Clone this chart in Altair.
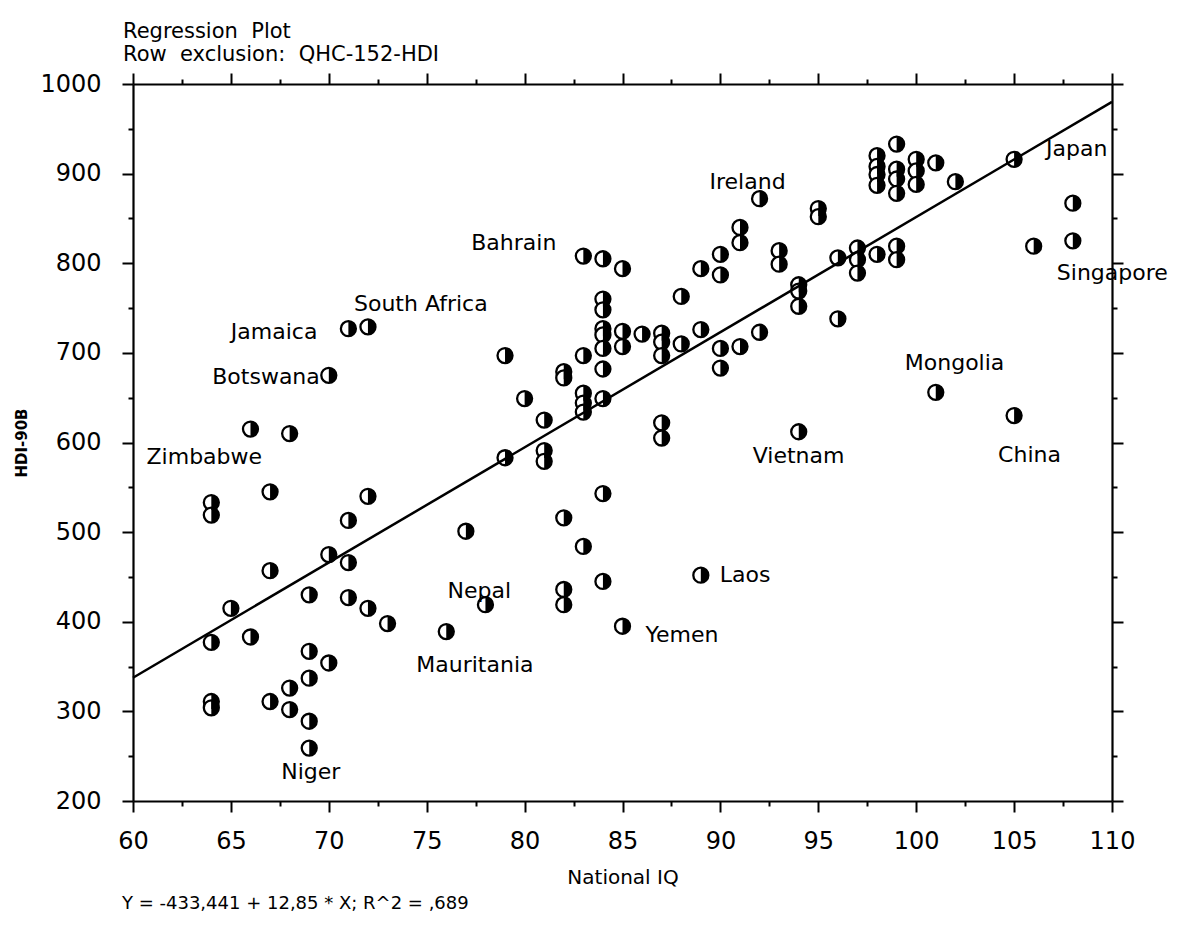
import math
import altair as alt
import pandas as pd

# ---------------- data ----------------
iq = [64, 64, 64, 64, 64, 65, 66, 66, 67, 67, 67, 68, 68, 68, 69, 69, 69, 69, 69,
      70, 70, 70, 71, 71, 71, 71, 72, 72, 72, 73, 76, 77, 78, 79, 79, 80, 81, 81, 81,
      82, 82, 82, 82, 82, 83, 83, 83, 83, 83, 83, 84, 84, 84, 84, 84, 84, 84, 84, 84, 84,
      85, 85, 85, 85, 86, 87, 87, 87, 87, 87, 88, 88, 89, 89, 89, 90, 90, 90, 90,
      91, 91, 91, 92, 92, 93, 93, 94, 94, 94, 94, 95, 95, 96, 96, 97, 97, 97,
      98, 98, 98, 98, 98, 99, 99, 99, 99, 99, 99, 100, 100, 100, 101, 101, 102,
      105, 105, 106, 108, 108]
hdi = [533, 519, 377, 311, 304, 415, 615, 383, 545, 457, 311, 610, 326, 302, 430, 367, 337, 289, 259,
       675, 475, 354, 727, 513, 466, 427, 729, 540, 415, 398, 389, 501, 419, 697, 583, 649, 625, 591, 579,
       679, 672, 516, 436, 419, 808, 697, 655, 644, 634, 484, 805, 760, 748, 727, 720, 705, 682, 649, 543, 445,
       794, 724, 707, 395, 721, 722, 712, 697, 622, 605, 763, 710, 794, 726, 452, 810, 787, 705, 683,
       840, 823, 707, 872, 723, 814, 799, 776, 769, 752, 612, 861, 852, 806, 738, 817, 804, 789,
       920, 908, 899, 887, 810, 933, 905, 894, 878, 819, 804, 916, 903, 888, 912, 656, 891,
       916, 630, 819, 867, 825]

label_names = ["Zimbabwe", "Botswana", "Jamaica", "South Africa", "Bahrain", "Ireland",
               "Japan", "Singapore", "Mongolia", "China", "Vietnam", "Laos", "Yemen",
               "Nepal", "Mauritania", "Niger"]
label_iq = [64, 70, 71, 72, 83, 92, 105, 108, 101, 105, 94, 89, 85, 78, 76, 69]
label_hdi = [533, 675, 727, 729, 808, 872, 916, 825, 656, 630, 612, 452, 395, 419, 389, 259]

# regression line printed under the chart
intercept = -433.441
slope = 12.85
line_iq = [60, 110]
equation = "Y = -433,441 + 12,85 * X; R^2 = ,689"

x_major = [60, 65, 70, 75, 80, 85, 90, 95, 100, 105, 110]
x_minor = [62.5, 67.5, 72.5, 77.5, 82.5, 87.5, 92.5, 97.5, 102.5, 107.5]
y_major = [200, 300, 400, 500, 600, 700, 800, 900, 1000]
y_minor = [250, 350, 450, 550, 650, 750, 850, 950]

# ---------------- styling ----------------
FONT = "DejaVu Sans"
W, H = 979, 717
SIZE = 225

# label placement relative to the labelled point (dx, dy in px, align)
label_style = {
    "Zimbabwe": (-7, -46, "center"),
    "Botswana": (-9, 2, "right"),
    "Jamaica": (-31, 3, "right"),
    "South Africa": (-14, -23, "left"),
    "Bahrain": (-27, -13, "right"),
    "Ireland": (-12, -17, "center"),
    "Japan": (32, -10, "left"),
    "Singapore": (-16, 32, "left"),
    "Mongolia": (-31, -29, "left"),
    "China": (-16, 39, "left"),
    "Vietnam": (-46, 24, "left"),
    "Laos": (19, 0, "left"),
    "Yemen": (23, 9, "left"),
    "Nepal": (-38, -14, "left"),
    "Mauritania": (-30, 33, "left"),
    "Niger": (-28, 24, "left"),
}

# right half of a unit circle as a custom symbol path
pts = []
for k in range(0, 37):
    a = -math.pi / 2 + math.pi * k / 36
    pts.append(f"{math.cos(a):.4f},{math.sin(a):.4f}")
HALF = "M" + " L".join(pts) + " Z"

xs = alt.Scale(domain=[60, 110], nice=False, zero=False)
ys = alt.Scale(domain=[200, 1000], nice=False, zero=False)


def axis(orient, values, size, labels=False, domain=False, **kw):
    return alt.Axis(orient=orient, values=values, tickSize=size, tickWidth=2,
                    tickColor="black", domain=domain, domainWidth=2.2,
                    domainColor="black", labels=labels, grid=False, **kw)


df = pd.DataFrame({"iq": iq, "hdi": hdi})

circles = alt.Chart(df).mark_point(
    shape="circle", filled=True, fill="white", stroke="black",
    strokeWidth=2.3, size=SIZE, opacity=1
).encode(
    x=alt.X("iq:Q", scale=xs, title="National IQ",
            axis=axis("bottom", x_major, 11, labels=True, domain=True,
                      labelPadding=17, labelFontSize=24, labelFont=FONT,
                      labelColor="black", labelFlush=False, labelOverlap=False,
                      format="d", titleFont=FONT, titleFontSize=20,
                      titleFontWeight="normal", titleColor="black",
                      titlePadding=14)),
    y=alt.Y("hdi:Q", scale=ys, title="HDI-90B",
            axis=axis("left", y_major, 11, labels=True, domain=True,
                      labelPadding=21, labelFontSize=24, labelFont=FONT,
                      labelColor="black", labelFlush=False, labelOverlap=False,
                      format="d", titleFont=FONT, titleFontSize=15,
                      titleFontWeight="bold", titleColor="black",
                      titlePadding=10)),
)

halves = alt.Chart(df).mark_point(
    shape=HALF, filled=True, fill="black", strokeWidth=0, size=SIZE, opacity=1
).encode(
    x=alt.X("iq:Q", scale=xs, title=None, axis=axis("bottom", x_minor, 5)),
    y=alt.Y("hdi:Q", scale=ys, title=None, axis=axis("left", y_minor, 5)),
)

line = alt.Chart(pd.DataFrame({"iq": line_iq})).transform_calculate(
    hdi=f"{intercept} + {slope} * datum.iq"
).mark_line(color="black", strokeWidth=2.5).encode(
    x=alt.X("iq:Q", scale=xs, title=None, axis=axis("top", x_major, 11, domain=True)),
    y=alt.Y("hdi:Q", scale=ys, title=None, axis=axis("right", y_major, 11, domain=True)),
)

label_layers = []
for i, (n, xv, yv) in enumerate(zip(label_names, label_iq, label_hdi)):
    dx, dy, al = label_style[n]
    if i == 0:
        xa = axis("top", x_minor, 5)
        ya = axis("right", y_minor, 5)
    else:
        xa = None
        ya = None
    layer = alt.Chart(pd.DataFrame({"name": [n], "iq": [xv], "hdi": [yv]})).mark_text(
        align=al, baseline="middle", dx=dx, dy=dy, font=FONT, fontSize=22, color="black"
    ).encode(
        x=alt.X("iq:Q", scale=xs, title=None, axis=xa),
        y=alt.Y("hdi:Q", scale=ys, title=None, axis=ya),
        text="name:N",
    )
    label_layers.append(layer)

eq = alt.Chart(pd.DataFrame({"t": [equation]})).mark_text(
    align="left", baseline="middle", font=FONT, fontSize=18, color="black"
).encode(x=alt.value(-11), y=alt.value(820), text="t:N")

chart = alt.layer(circles, halves, line, *label_layers, eq).resolve_axis(
    x="independent", y="independent"
).properties(
    width=W, height=H,
    title=alt.TitleParams(
        text=["Regression\u00a0\u00a0Plot", "Row\u00a0\u00a0exclusion:\u00a0\u00a0QHC-152-HDI"],
        anchor="start", frame="group", dx=-10, fontSize=21, font=FONT,
        fontWeight="normal", color="black", lineHeight=23, offset=7),
    padding={"left": 125, "top": 76, "right": 63, "bottom": 125},
    autosize=alt.AutoSizeParams(type="none"),
).configure_view(stroke=None).configure(background="white")

chart.save("out.html", embed_options={"renderer": "svg", "actions": False})
